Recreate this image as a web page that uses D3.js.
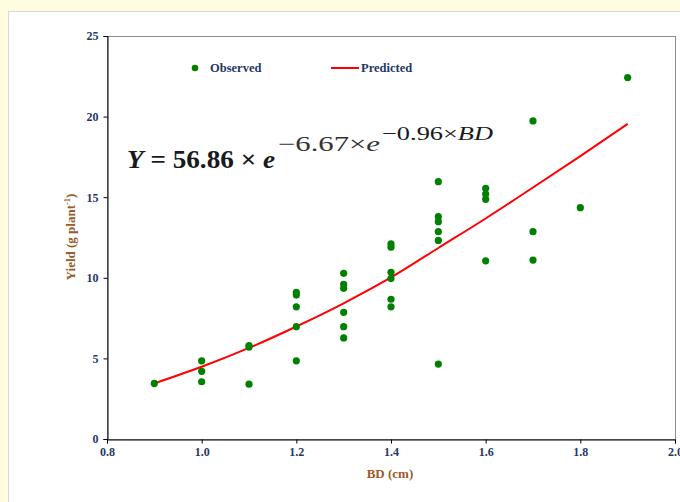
<!DOCTYPE html>
<html>
<head>
<meta charset="utf-8">
<script src="https://cdn.jsdelivr.net/npm/d3@7"></script>
<style>
  body { margin: 0; background: #fffce0; }
  #chart { width: 680px; height: 502px; }
</style>
</head>
<body>
<div id="chart"></div>
<script>
// Observed points, grouped by BD value
var bd       = [0.9, 1.0, 1.0, 1.0, 1.1, 1.1, 1.1, 1.2, 1.2, 1.2, 1.2, 1.2,
                1.3, 1.3, 1.3, 1.3, 1.3, 1.3, 1.4, 1.4, 1.4, 1.4, 1.4, 1.4,
                1.5, 1.5, 1.5, 1.5, 1.5, 1.5, 1.6, 1.6, 1.6, 1.6,
                1.7, 1.7, 1.7, 1.8, 1.9];
var observed = [3.45, 4.85, 4.2, 3.55, 5.8, 5.7, 3.4, 9.1, 8.93, 8.2, 6.97, 4.85,
                10.28, 9.6, 9.35, 7.86, 6.97, 6.27, 12.1, 11.9, 10.34, 9.95, 8.67, 8.2,
                15.96, 13.79, 13.48, 12.86, 12.32, 4.65, 15.55, 15.2, 14.87, 11.05,
                19.73, 12.86, 11.1, 14.35, 22.42];

// Predicted curve
var predBD    = [0.9, 1.0, 1.1, 1.2, 1.3, 1.4, 1.5, 1.6, 1.7, 1.8, 1.9];
var predicted = [3.45, 4.48, 5.65, 6.98, 8.42, 10.02, 11.85, 13.68, 15.6, 17.55, 19.55];

var xTicks = [0.8, 1.0, 1.2, 1.4, 1.6, 1.8, 2.0];
var yTicks = [0, 5, 10, 15, 20, 25];

var serif = "Liberation Serif, Times New Roman, serif";

function createChart(divID) {
  var wrapper = document.getElementById(divID);
  var chart = d3.select(wrapper).append("svg")
      .attr("width", 680)
      .attr("height", 502);

  // white panel
  chart.append("rect")
      .attr("x", 8.5).attr("y", 11.5)
      .attr("width", 690).attr("height", 500)
      .attr("fill", "#fff")
      .attr("stroke", "#d8d8d8");

  var margin = {top: 36, left: 107},
      width = 568,
      height = 403;

  var x = d3.scaleLinear().domain([0.8, 2.0]).range([0, width]),
      y = d3.scaleLinear().domain([0, 25]).range([height, 0]);

  var g = chart.append("g")
      .attr("transform", "translate(" + margin.left + "," + margin.top + ")");

  // frame (top / right in gray)
  g.append("rect")
      .attr("x", 0.5).attr("y", 0.5)
      .attr("width", width).attr("height", height)
      .attr("fill", "none")
      .attr("stroke", "#8c8c8c");

  var xAxis = d3.axisBottom(x).tickValues(xTicks).tickSize(4).tickPadding(4)
        .tickFormat(d3.format(".1f")),
      yAxis = d3.axisLeft(y).tickValues(yTicks).tickSize(4).tickPadding(5)
        .tickFormat(d3.format("d"));

  function styleAxis(s) {
    s.selectAll("path, line").attr("stroke", "#000");
    s.selectAll("text")
      .attr("font-family", serif)
      .attr("font-weight", "bold")
      .attr("font-size", 12)
      .attr("fill", "#1f3868");
  }

  g.append("g")
      .attr("class", "axis axis--x")
      .attr("transform", "translate(0," + (height + 0.5) + ")")
      .call(xAxis)
      .call(styleAxis);

  g.append("g")
      .attr("class", "axis axis--y")
      .attr("transform", "translate(0.5,0)")
      .call(yAxis)
      .call(styleAxis);

  // predicted curve
  var line = d3.line()
      .curve(d3.curveMonotoneX)
      .x(function(d, i) { return x(predBD[i]); })
      .y(function(d) { return y(d); });

  g.append("path")
      .datum(predicted)
      .attr("fill", "none")
      .attr("stroke", "#ff0000")
      .attr("stroke-width", 2)
      .attr("d", line);

  // observed dots
  g.append("g")
      .selectAll("circle")
      .data(observed)
    .enter().append("circle")
      .attr("r", 3.6)
      .attr("fill", "#008000")
      .attr("cx", function(d, i) { return x(bd[i]); })
      .attr("cy", function(d) { return y(d); });

  // legend
  var legend = chart.append("g")
      .attr("font-family", serif)
      .attr("font-weight", "bold")
      .attr("font-size", 12.5)
      .attr("fill", "#1f3868");
  legend.append("circle").attr("cx", 195).attr("cy", 68).attr("r", 3.3).attr("fill", "#008000");
  legend.append("text").attr("x", 210).attr("y", 72).text("Observed");
  legend.append("line").attr("x1", 331).attr("x2", 359).attr("y1", 68).attr("y2", 68)
      .attr("stroke", "#ff0000").attr("stroke-width", 2);
  legend.append("text").attr("x", 361).attr("y", 72).text("Predicted");

  // equation: Y = 56.86 x e^(-6.67 x e^(-0.96 x BD))
  var eqG = chart.append("g")
      .attr("font-family", serif)
      .attr("fill", "#1a1a1a");
  var main = eqG.append("text")
      .attr("x", 127).attr("y", 168)
      .attr("font-size", 26)
      .attr("font-weight", "bold")
      .attr("textLength", 148)
      .attr("lengthAdjust", "spacingAndGlyphs");
  main.append("tspan").attr("font-style", "italic").text("Y");
  main.append("tspan").text(" = 56.86 × ");
  main.append("tspan").attr("font-style", "italic").text("e");

  var sup1 = eqG.append("text")
      .attr("x", 278).attr("y", 151)
      .attr("font-size", 21)
      .attr("fill", "#333")
      .attr("textLength", 102)
      .attr("lengthAdjust", "spacingAndGlyphs");
  sup1.append("tspan").text("−6.67×");
  sup1.append("tspan").attr("font-style", "italic").text("e");

  var sup2 = eqG.append("text")
      .attr("x", 382).attr("y", 140)
      .attr("font-size", 19)
      .attr("textLength", 111)
      .attr("lengthAdjust", "spacingAndGlyphs");
  sup2.append("tspan").text("−0.96×");
  sup2.append("tspan").attr("font-style", "italic").text("BD");

  // axis titles
  var titles = chart.append("g")
      .attr("font-family", serif)
      .attr("font-weight", "bold")
      .attr("font-size", 13)
      .attr("fill", "#9a5a2a")
      .attr("text-anchor", "middle");
  titles.append("text").attr("x", 390).attr("y", 478).text("BD (cm)");
  var yt = titles.append("text")
      .attr("transform", "translate(75,237) rotate(-90)");
  yt.append("tspan").text("Yield  (g  plant");
  yt.append("tspan").attr("font-size", 8.5).attr("dy", -5).text("-1");
  yt.append("tspan").attr("dy", 5).text(")");
}

createChart("chart");
</script>
</body>
</html>
